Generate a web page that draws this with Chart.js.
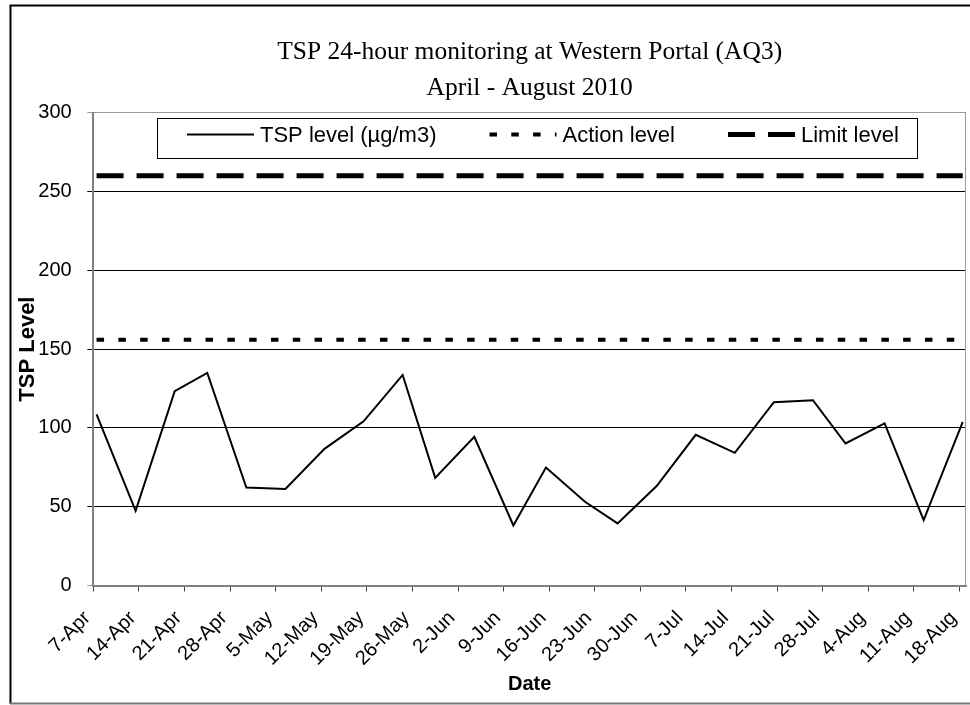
<!DOCTYPE html>
<html><head><meta charset="utf-8">
<script src="https://cdn.jsdelivr.net/npm/chart.js@4.4.1/dist/chart.umd.min.js"></script>
<style>html,body{margin:0;padding:0;background:#fff}canvas{display:block}</style>
</head><body>
<canvas id="c" width="970" height="705"></canvas>
<script>
// ---------- data ----------
const titleLines = ['TSP 24-hour monitoring at Western Portal (AQ3)', 'April - August 2010'];
const seriesNames = ['TSP level (\u00b5g/m3)', 'Action level', 'Limit level'];
const sampleDates = ['2010-04-07','2010-04-13','2010-04-19','2010-04-24','2010-04-30','2010-05-06',
  '2010-05-12','2010-05-18','2010-05-24','2010-05-29','2010-06-04','2010-06-10','2010-06-15',
  '2010-06-21','2010-06-26','2010-07-02','2010-07-08','2010-07-14','2010-07-20','2010-07-26',
  '2010-07-31','2010-08-06','2010-08-12','2010-08-18'];
const tspLevels = [108.5,47.4,123.3,134.9,62.2,61.3,86.7,104.2,133.6,68.3,94.3,38.1,74.9,53.1,
  39.4,63.1,95.6,84.2,116.3,117.6,90.1,102.8,41.5,103.8];
const actionLevel = 156;
const limitLevel = 260;
const tickLabels = ['7-Apr','14-Apr','21-Apr','28-Apr','5-May','12-May','19-May','26-May','2-Jun',
  '9-Jun','16-Jun','23-Jun','30-Jun','7-Jul','14-Jul','21-Jul','28-Jul','4-Aug','11-Aug','18-Aug'];
const axisStart = '2010-04-07';
const axisEnd = '2010-08-19';
const yMin = 0, yMax = 300, yStep = 50;
const xTitle = 'Date', yTitle = 'TSP Level';

// ---------- helpers ----------
const MON = {Jan:0,Feb:1,Mar:2,Apr:3,May:4,Jun:5,Jul:6,Aug:7,Sep:8,Oct:9,Nov:10,Dec:11};
const isoDay = s => { const [y,m,d] = s.split('-').map(Number); return Date.UTC(y, m-1, d) / 864e5; };
const day0 = isoDay(axisStart);
const dayOf = s => isoDay(s) - day0;
const labelDay = l => { const [d, m] = l.split('-'); return Date.UTC(2010, MON[m], +d) / 864e5 - day0; };
const tickDays = tickLabels.map(labelDay);
const labelByDay = {}; tickLabels.forEach((l, i) => labelByDay[tickDays[i]] = l);
// Excel date axis: each point sits in the middle of its day
const pts = vals => sampleDates.map((d, i) => ({x: dayOf(d) + 0.5, y: vals[i]}));

const FONT = 'Liberation Sans';

const framePlugin = {
  id: 'frame',
  beforeDraw(chart) {
    const c = chart.ctx;
    c.save();
    c.fillStyle = '#fff'; c.fillRect(0, 0, chart.width, chart.height);
    c.strokeStyle = '#000'; c.lineWidth = 2;
    c.beginPath(); c.moveTo(10.5, 704); c.lineTo(10.5, 5.5); c.lineTo(970, 5.5); c.stroke();
    c.strokeStyle = '#777'; c.lineWidth = 2;
    c.beginPath(); c.moveTo(10, 703.5); c.lineTo(970, 703.5); c.stroke();
    c.restore();
  },
  afterDraw(chart) {
    const c = chart.ctx, a = chart.chartArea;
    c.save();
    c.strokeStyle = '#999'; c.lineWidth = 1;
    c.beginPath(); c.moveTo(Math.round(a.right) - 0.5, a.top); c.lineTo(Math.round(a.right) - 0.5, a.bottom); c.stroke();
    // legend
    const L = 157.5, T = 118.5, W = 760, H = 40;
    c.fillStyle = '#fff'; c.fillRect(L, T, W, H);
    c.strokeStyle = '#000'; c.lineWidth = 1; c.strokeRect(L, T, W, H);
    c.font = '22px "' + FONT + '"';
    c.textBaseline = 'middle'; c.textAlign = 'left';
    const cy = 134.5;
    let x = 187;
    chart.data.datasets.forEach(ds => {
      c.setLineDash(ds.borderDash || []);
      c.lineWidth = ds.borderWidth; c.strokeStyle = ds.borderColor; c.lineCap = 'butt';
      c.beginPath(); c.moveTo(x, cy); c.lineTo(x + 67, cy); c.stroke();
      c.setLineDash([]);
      c.fillStyle = '#000';
      c.fillText(ds.label, x + 73, cy + 1);
      x += 73 + c.measureText(ds.label).width + 53;
    });
    c.restore();
  }
};

new Chart(document.getElementById('c'), {
  type: 'line',
  data: {
    datasets: [
      {label: seriesNames[0], data: pts(tspLevels), borderColor: '#000', borderWidth: 2, pointRadius: 0, tension: 0},
      {label: seriesNames[1], data: pts(sampleDates.map(() => actionLevel)), borderColor: '#000', borderWidth: 4,
        borderDash: [7.5, 14.3], pointRadius: 0},
      {label: seriesNames[2], data: pts(sampleDates.map(() => limitLevel)), borderColor: '#000', borderWidth: 5,
        borderDash: [27, 13], pointRadius: 0}
    ]
  },
  plugins: [framePlugin],
  options: {
    responsive: false,
    animation: false,
    events: [],
    layout: {padding: {left: 0, right: 4, top: 0, bottom: 0}},
    plugins: {
      legend: {display: false},
      tooltip: {enabled: false},
      title: {
        display: true, text: titleLines, color: '#000', fullSize: false,
        font: {family: 'Liberation Serif', size: 25.5, weight: 'normal', lineHeight: 1.384},
        padding: {top: 35, bottom: 7.1}
      }
    },
    scales: {
      x: {
        type: 'linear', min: 0, max: dayOf(axisEnd),
        afterBuildTicks: s => { s.ticks = tickDays.map(v => ({value: v})); },
        afterFit: s => { s.height = 119.5; s.paddingLeft = 0; s.paddingRight = 0; },
        ticks: {
          autoSkip: false, minRotation: 45, maxRotation: 45, padding: 15, labelOffset: -6, color: '#000',
          font: {family: FONT, size: 20},
          callback: v => labelByDay[v]
        },
        grid: {display: true, drawOnChartArea: false, drawTicks: true, tickLength: 6, color: '#444'},
        border: {display: true, color: '#808080', width: 2},
        title: {display: true, text: xTitle, color: '#000', font: {family: FONT, size: 20, weight: 'bold'},
          padding: {top: 0, bottom: 8.5}}
      },
      y: {
        min: yMin, max: yMax,
        ticks: {stepSize: yStep, padding: 15.6, color: '#000', font: {family: FONT, size: 20}},
        afterFit: s => { s.width = 93.3; },
        grid: {
          tickLength: 6, lineWidth: 1,
          color: c => (c.tick && (c.tick.value === yMax || c.tick.value === yMin)) ? '#999' : '#000'
        },
        border: {display: true, color: '#808080', width: 2},
        title: {display: true, text: yTitle, color: '#000', font: {family: FONT, size: 22, weight: 'bold'},
          padding: {top: 14.8, bottom: 0}}
      }
    }
  }
});
</script>
</body></html>
